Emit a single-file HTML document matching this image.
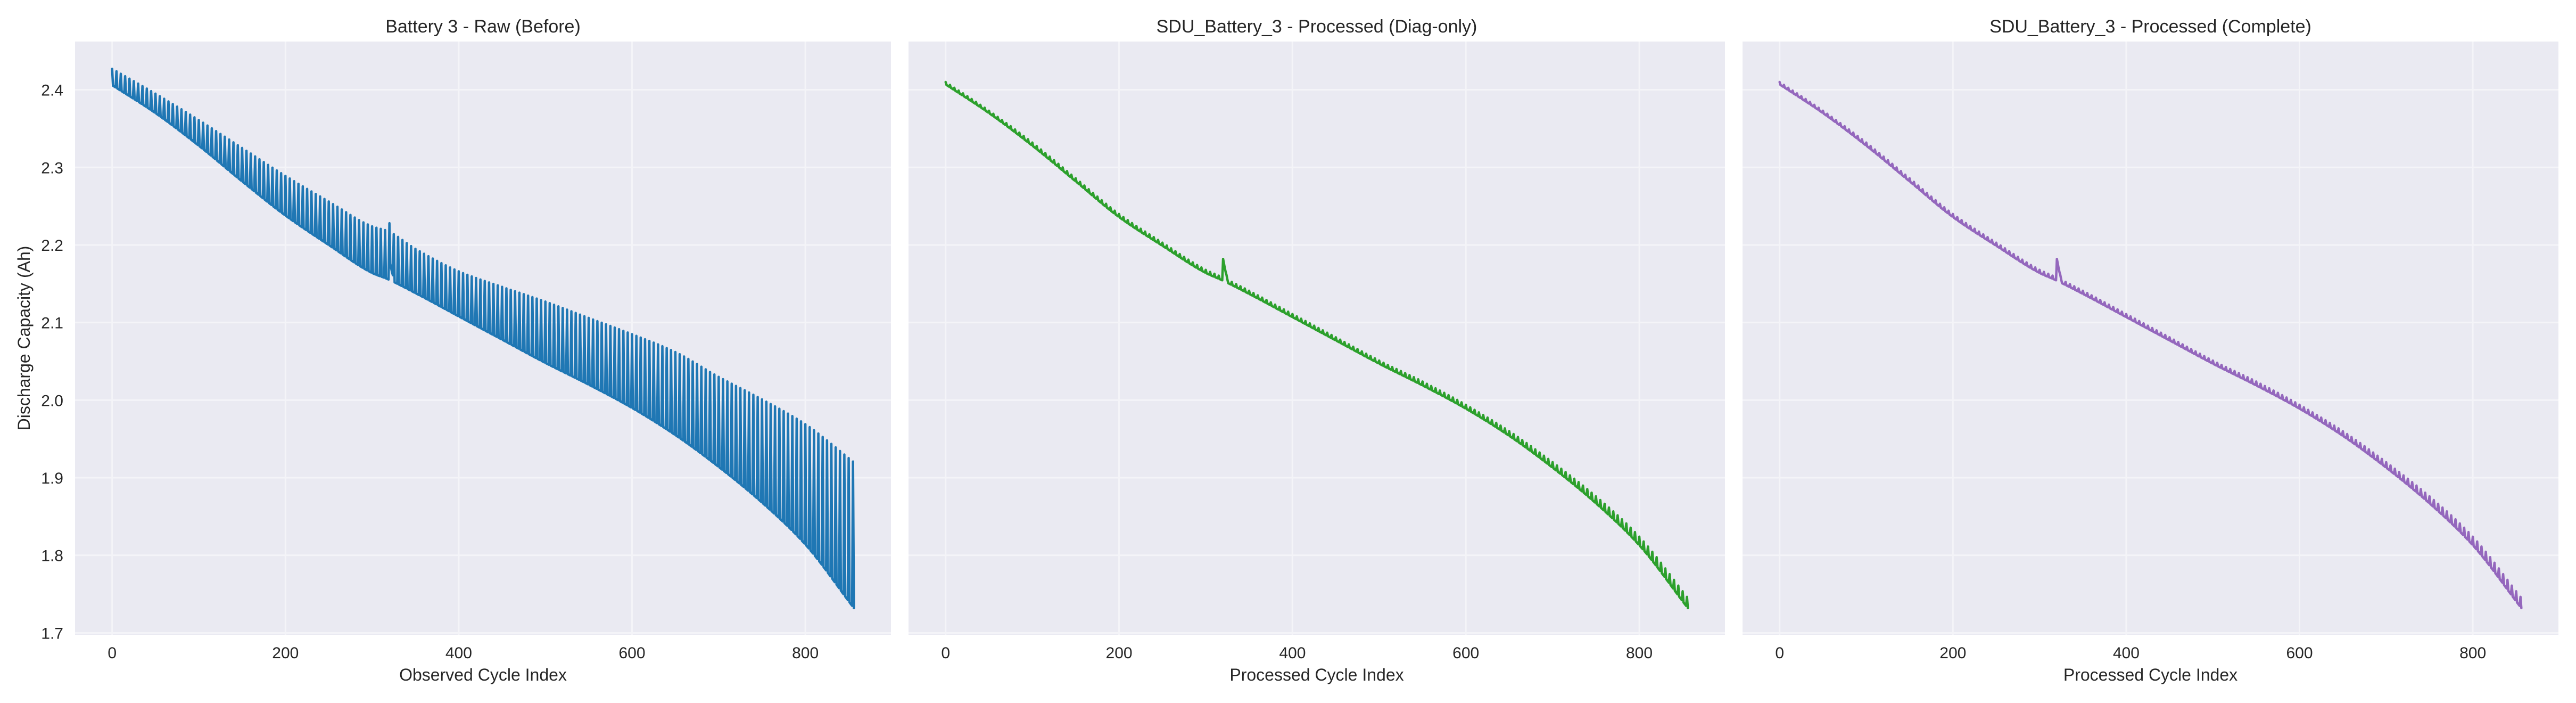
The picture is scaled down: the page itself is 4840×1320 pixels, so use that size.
<!DOCTYPE html>
<html><head><meta charset="utf-8">
<style>
html,body{margin:0;padding:0;background:#fff;}
svg{display:block;font-family:"Liberation Sans",Arial,sans-serif;}
</style></head>
<body>
<svg id="chart" width="4840" height="1320" viewBox="0 0 4840 1320" xmlns="http://www.w3.org/2000/svg"></svg>
<script>
// ---- data ----
const cycleKnots = [0,50,100,150,200,250,300,318,350,400,450,500,550,600,650,700,750,800,856];
const rawBase    = [2.406,2.370,2.328,2.282,2.238,2.200,2.164,2.156,2.138,2.108,2.078,2.048,2.020,1.990,1.955,1.914,1.868,1.814,1.732];
const rawTop     = [2.427,2.395,2.361,2.325,2.289,2.256,2.224,2.218,2.195,2.166,2.146,2.127,2.106,2.085,2.062,2.030,2.001,1.969,1.920];
const procBase   = [2.407,2.370,2.328,2.282,2.236,2.199,2.164,2.155,2.137,2.107,2.077,2.047,2.019,1.989,1.954,1.913,1.867,1.813,1.732];
const procAmp    = [0.003,0.003,0.004,0.004,0.004,0.004,0.004,0.004,0.004,0.004,0.004,0.004,0.005,0.005,0.006,0.007,0.009,0.011,0.013];
const anomalyCycles = [320,321,322,323,324];
const anomalyRawTop = [2.228,2.176,2.170,2.165,2.161];
const anomalyProc   = [2.182,2.176,2.170,2.165,2.161];
const nCycles = 857;
const toothPeriod = 5;
const xTicks = [0,200,400,600,800];
const yTicks = [1.7,1.8,1.9,2.0,2.1,2.2,2.3,2.4];
const panelTitles = ["Battery 3 - Raw (Before)","SDU_Battery_3 - Processed (Diag-only)","SDU_Battery_3 - Processed (Complete)"];
const panelXLabels = ["Observed Cycle Index","Processed Cycle Index","Processed Cycle Index"];
const panelColors = ["#1f77b4","#2ca02c","#9467bd"];

const NS="http://www.w3.org/2000/svg";
const svgRoot=document.getElementById('chart');
function mk(tag,attrs,parent){const e=document.createElementNS(NS,tag);for(const k in attrs)e.setAttribute(k,attrs[k]);(parent||svgRoot).appendChild(e);return e;}
// smooth (monotone cubic) curve through the knots
function knot(arr,c){
  const X=cycleKnots,n=X.length;
  let i=0;while(i<n-2&&c>X[i+1])i++;
  const slope=k=>(arr[k+1]-arr[k])/(X[k+1]-X[k]);
  const tan=k=>{
    if(k===0)return slope(0);
    if(k===n-1)return slope(n-2);
    const a=slope(k-1),b=slope(k);
    if(a*b<=0)return 0;
    return 2/(1/a+1/b);
  };
  const h=X[i+1]-X[i],t=(c-X[i])/h;
  const m0=tan(i)*h,m1=tan(i+1)*h,p0=arr[i],p1=arr[i+1];
  const t2=t*t,t3=t2*t;
  return (2*t3-3*t2+1)*p0+(t3-2*t2+t)*m0+(-2*t3+3*t2)*p1+(t3-t2)*m1;
}

function rawSeries(){const v=[];for(let c=0;c<nCycles;c++){const ai=anomalyCycles.indexOf(c);
  if(ai>=0){v.push(anomalyRawTop[ai]);continue;}
  v.push(c%toothPeriod===0?knot(rawTop,c):knot(rawBase,c));}return v;}
function procSeries(){const v=[];for(let c=0;c<nCycles;c++){const ai=anomalyCycles.indexOf(c);
  if(ai>=0){v.push(anomalyProc[ai]);continue;}
  v.push(knot(procBase,c)+(c%toothPeriod===0?knot(procAmp,c):0));}return v;}

const panels=[{left:141,right:1674},{left:1707,right:3241},{left:3274,right:4807}];
const plotTop=78,plotBottom=1192;
const xMin=-42.8,xMax=898.8,yMin=1.6975,yMax=2.4622;
const seriesList=[rawSeries(),procSeries(),procSeries()];

panels.forEach((p,pi)=>{
  const g=mk('g',{});
  
  
  const xs=c=>p.left+(c-xMin)/(xMax-xMin)*(p.right-p.left);
  const ys=v=>plotBottom-(v-yMin)/(yMax-yMin)*(plotBottom-plotTop);
  const bg=mk('rect',{x:p.left,y:plotTop,width:p.right-p.left,height:plotBottom-plotTop,fill:'#eaeaf2'},g);
  
  
  yTicks.forEach(t=>{
    const l=mk('line',{x1:p.left,x2:p.right,y1:ys(t),y2:ys(t),stroke:'#f4f4f8','stroke-width':3},g);
    
    
    if(pi===0){
      const tx=mk('text',{x:119,y:ys(t)+11,'text-anchor':'end','font-size':30,fill:'#262626'},g);
      tx.textContent=t.toFixed(1);
      
      
    }
  });
  xTicks.forEach(t=>{
    const l=mk('line',{x1:xs(t),x2:xs(t),y1:plotTop,y2:plotBottom,stroke:'#f4f4f8','stroke-width':3},g);
    
    
    const tx=mk('text',{x:xs(t),y:1236,'text-anchor':'middle','font-size':30,fill:'#262626'},g);
    tx.textContent=String(t);
    
    
  });
  const vals=seriesList[pi];
  let d='';vals.forEach((v,c)=>{d+=(c?'L':'M')+xs(c).toFixed(2)+' '+ys(v).toFixed(2);});
  const path=mk('path',{d:d,fill:'none',stroke:panelColors[pi],'stroke-width':4.5,'stroke-linejoin':'round','stroke-linecap':'round'},g);
  
  
  const title=mk('text',{x:(p.left+p.right)/2,y:61,'text-anchor':'middle','font-size':34,fill:'#262626'},g);
  title.textContent=panelTitles[pi];
  
  
  const xl=mk('text',{x:(p.left+p.right)/2,y:1278,'text-anchor':'middle','font-size':32,fill:'#262626'},g);
  xl.textContent=panelXLabels[pi];
  
  
});
const yl=mk('text',{x:0,y:0,'text-anchor':'middle','font-size':32,fill:'#262626',transform:'translate(56,635) rotate(-90)'});
yl.textContent='Discharge Capacity (Ah)';


</script>
</body></html>
